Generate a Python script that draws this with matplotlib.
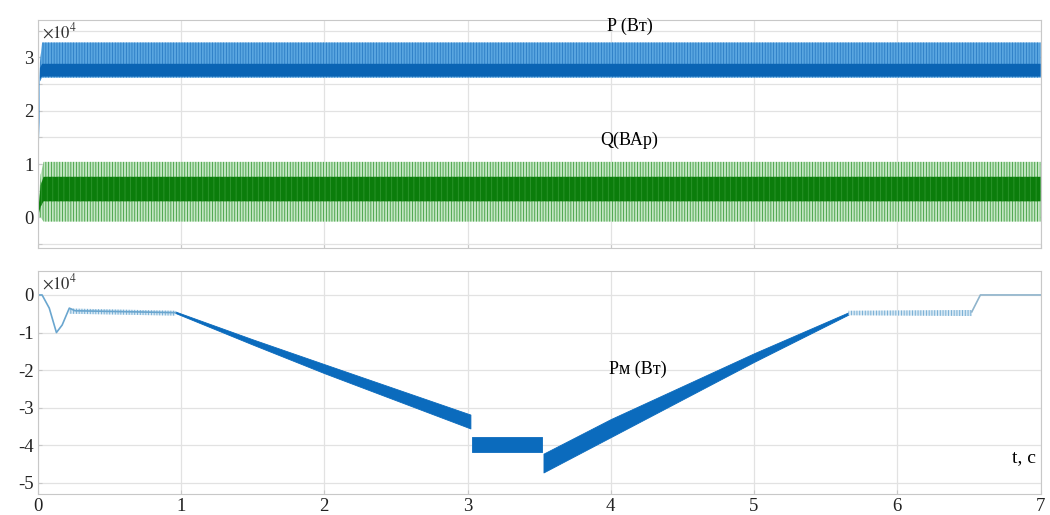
import matplotlib.pyplot as plt

plt.rcParams['font.family'] = ['Liberation Serif', 'DejaVu Serif']
plt.rcParams['mathtext.fontset'] = 'stix'
plt.rcParams['hatch.linewidth'] = 0.6

# --- top panel data (units of 1e4) ---
p_t = [0.0, 0.015, 0.03, 7.0]
p_outer_hi = [0.6, 2.9, 3.28, 3.28]
p_outer_lo = [0.0, 2.55, 2.62, 2.62]
p_core_hi = [0.5, 2.8, 2.88, 2.88]
p_core_lo = [0.1, 2.6, 2.64, 2.64]

q_t = [0.0, 0.02, 0.04, 7.0]
q_outer_hi = [0.05, 0.8, 1.04, 1.04]
q_outer_lo = [0.0, 0.0, -0.08, -0.08]
q_core_hi = [0.04, 0.6, 0.76, 0.76]
q_core_lo = [0.0, 0.2, 0.3, 0.3]

# --- bottom panel data (units of 1e4) ---
pm_line_t = [0.0, 0.03, 0.08, 0.13, 0.17, 0.22, 0.26, 0.96]
pm_line_v = [0.0, 0.0, -0.35, -1.0, -0.8, -0.35, -0.42, -0.47]
ripple1_t = [0.22, 0.96]
ripple1_hi = [-0.36, -0.42]
ripple1_lo = [-0.5, -0.55]

ramp_down_t = [0.96, 1.5, 2.0, 3.02]
ramp_down_hi = [-0.44, -1.18, -1.84, -3.18]
ramp_down_lo = [-0.48, -1.32, -2.08, -3.55]

flat_t = [3.03, 3.52]
flat_hi = [-3.77, -3.77]
flat_lo = [-4.17, -4.17]

ramp_up_t = [3.53, 4.0, 5.0, 5.66]
ramp_up_hi = [-4.22, -3.3, -1.55, -0.46]
ramp_up_lo = [-4.72, -3.78, -1.78, -0.52]

ripple2_t = [5.66, 6.52]
ripple2_hi = [-0.42, -0.4]
ripple2_lo = [-0.54, -0.56]

tail_t = [6.52, 6.58, 7.0]
tail_v = [-0.45, 0.0, 0.0]

fig = plt.figure(figsize=(10.5, 5.15), dpi=100)
ax1 = fig.add_axes([0.036, 0.518, 0.955, 0.443])
ax2 = fig.add_axes([0.036, 0.041, 0.955, 0.433])

for ax in (ax1, ax2):
    ax.set_xlim(0, 7)
    ax.grid(True, color='#e2e2e2', linewidth=0.9)
    ax.set_axisbelow(True)
    for s in ax.spines.values():
        s.set_color('#c8c8c8')
    ax.tick_params(direction='in', length=3, color='#c8c8c8', labelsize=13.5,
                   labelcolor='#222222', pad=3)
    ax.set_xticks(range(8))

# top
ax1.fill_between(p_t, p_outer_lo, p_outer_hi, facecolor='#5aa6e0', edgecolor='#2a7cc4',
                 hatch='||||||', linewidth=0)
ax1.fill_between(p_t, p_core_lo, p_core_hi, facecolor='#0a64b4', linewidth=0)
ax1.fill_between(q_t, q_outer_lo, q_outer_hi, facecolor='#c4e6c4', edgecolor='#3c9c3c',
                 hatch='||||||', linewidth=0)
ax1.fill_between(q_t, q_core_lo, q_core_hi, facecolor='#0b7d0b', edgecolor='#2e962e',
                 hatch='|||', linewidth=0)
ax1.set_ylim(-0.58, 3.70)
ax1.set_yticks([-0.5, 0, 0.5, 1, 1.5, 2, 2.5, 3, 3.5])
ax1.set_yticklabels(['', '0', '', '1', '', '2', '', '3', ''])
ax1.set_xticklabels([])
ax1.text(0.004, 0.99, r'$\times10^4$', transform=ax1.transAxes, ha='left', va='top',
         fontsize=12, color='#333333')
ax1.text(4.13, 3.58, 'P (Вт)', ha='center', va='center', fontsize=13)
ax1.text(4.13, 1.45, 'Q(ВАр)', ha='center', va='center', fontsize=13)

# bottom
band = '#0b6bbd'
thin = '#6aa6cf'
ax2.plot(pm_line_t, pm_line_v, color=thin, linewidth=1.2)
ax2.fill_between(ripple1_t, ripple1_lo, ripple1_hi, facecolor='#d6e8f4', edgecolor=thin,
                 hatch='||||||', linewidth=0)
ax2.fill_between(ramp_down_t, ramp_down_lo, ramp_down_hi, color=band, linewidth=0.6)
ax2.fill_between(flat_t, flat_lo, flat_hi, color=band, linewidth=0.6)
ax2.fill_between(ramp_up_t, ramp_up_lo, ramp_up_hi, color=band, linewidth=0.6)
ax2.fill_between(ripple2_t, ripple2_lo, ripple2_hi, facecolor='#d6e8f4', edgecolor=thin,
                 hatch='||||||', linewidth=0)
ax2.plot(tail_t, tail_v, color='#8fb4cc', linewidth=1.2)
ax2.set_ylim(-5.29, 0.64)
ax2.set_yticks([-5, -4, -3, -2, -1, 0])
ax2.set_yticklabels(['-5', '-4', '-3', '-2', '-1', '0'])
ax2.text(0.004, 0.99, r'$\times10^4$', transform=ax2.transAxes, ha='left', va='top',
         fontsize=12, color='#333333')
ax2.text(4.19, -1.99, 'Pм (Вт)', ha='center', va='center', fontsize=13)
ax2.text(6.97, -4.33, 't, c', ha='right', va='center', fontsize=14)

fig.savefig('out.png', dpi=100)
